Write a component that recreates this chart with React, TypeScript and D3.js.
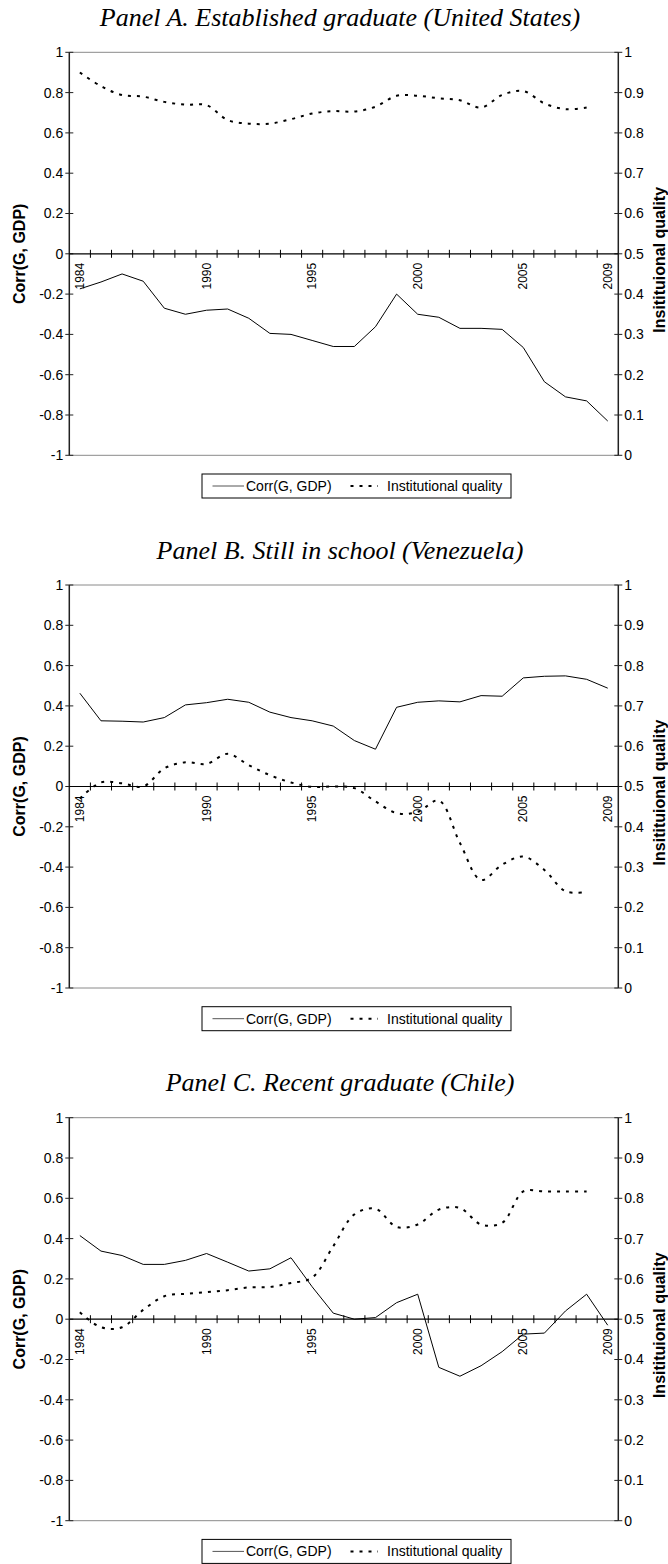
import React from 'react';
import * as d3 from 'd3';

const years = [1984, 1985, 1986, 1987, 1988, 1989, 1990, 1991, 1992, 1993, 1994, 1995, 1996, 1997, 1998, 1999, 2000, 2001, 2002, 2003, 2004, 2005, 2006, 2007, 2008, 2009];
const yearLabels = [1984, 1990, 1995, 2000, 2005, 2009];
const leftTicks = [1, 0.8, 0.6, 0.4, 0.2, 0, -0.2, -0.4, -0.6, -0.8, -1];
const rightTicks = [1, 0.9, 0.8, 0.7, 0.6, 0.5, 0.4, 0.3, 0.2, 0.1, 0];

const titles = [
  'Panel A. Established graduate (United States)',
  'Panel B. Still in school (Venezuela)',
  'Panel C. Recent graduate (Chile)',
];

// Corr(G, GDP) — left axis
const corrA = [-0.174, -0.14, -0.10, -0.136, -0.27, -0.30, -0.28, -0.274, -0.32, -0.395, -0.40, -0.43, -0.46, -0.46, -0.362, -0.20, -0.30, -0.315, -0.37, -0.37, -0.375, -0.465, -0.635, -0.71, -0.73, -0.83];
const corrB = [0.463, 0.326, 0.324, 0.32, 0.342, 0.405, 0.416, 0.433, 0.418, 0.369, 0.342, 0.326, 0.30, 0.228, 0.185, 0.393, 0.418, 0.425, 0.42, 0.451, 0.448, 0.539, 0.547, 0.549, 0.532, 0.488];
const corrC = [0.415, 0.338, 0.316, 0.272, 0.272, 0.292, 0.326, 0.283, 0.239, 0.25, 0.305, 0.161, 0.03, 0.0, 0.008, 0.082, 0.124, -0.239, -0.283, -0.231, -0.161, -0.074, -0.069, 0.041, 0.124, -0.03];

// Institutional quality — right axis
const instA = [0.95, 0.916, 0.894, 0.89, 0.877, 0.87, 0.869, 0.832, 0.823, 0.823, 0.834, 0.848, 0.854, 0.853, 0.865, 0.892, 0.892, 0.886, 0.881, 0.863, 0.894, 0.904, 0.873, 0.859, 0.863, null];
const instB = [0.47, 0.51, 0.508, 0.50, 0.545, 0.56, 0.556, 0.581, 0.553, 0.528, 0.51, 0.499, 0.50, 0.496, 0.463, 0.434, 0.437, 0.465, 0.36, 0.268, 0.306, 0.326, 0.293, 0.24, 0.238, null];
const instC = [0.517, 0.48, 0.48, 0.523, 0.557, 0.563, 0.567, 0.572, 0.579, 0.58, 0.59, 0.603, 0.681, 0.76, 0.774, 0.729, 0.735, 0.772, 0.776, 0.735, 0.739, 0.817, 0.817, 0.817, 0.817, null];

const legendLabels = ['Corr(G, GDP)', 'Institutional quality'];
const leftTitle = 'Corr(G, GDP)';
const rightTitle = 'Insitituional quality';

const W = 668;
const H = 1564;
const plotLeft = 69.3;
const plotRight = 618.3;
const plotH = 403;
const panelTops = [52.3, 585, 1117.7];
const SANS = '"Liberation Sans", Arial, Helvetica, sans-serif';
const SERIF = '"Liberation Serif", "Times New Roman", Times, serif';

type P = { top: number; title: string; corr: number[]; inst: (number | null)[] };

function Panel({ top, title, corr, inst }: P) {
  const x = d3.scaleBand<string>().domain(years.map(String)).range([plotLeft, plotRight]);
  const bw = x.bandwidth();
  const cx = (i: number) => (x(String(years[i])) as number) + bw / 2;
  const yL = d3.scaleLinear().domain([-1, 1]).range([top + plotH, top]);
  const yR = d3.scaleLinear().domain([0, 1]).range([top + plotH, top]);
  const zeroY = yL(0);
  const bottom = top + plotH;

  const corrLine = d3.line<number>().x((_, i) => cx(i)).y((d) => yL(d));
  const instLine = d3
    .line<number | null>()
    .defined((d) => d != null)
    .x((_, i) => cx(i))
    .y((d) => yR(d as number))
    .curve(d3.curveCatmullRom.alpha(0.5));

  const boundaries = years.slice(1).map((yr) => x(String(yr)) as number);

  const lgTop = bottom + 18.7;
  const lgMid = lgTop + 12;

  return (
    <g>
      <text x={340} y={top - 26.5} textAnchor="middle" fontFamily={SERIF} fontStyle="italic" fontSize={26} fill="#000">
        {title}
      </text>
      {/* top & bottom borders */}
      <line x1={plotLeft} x2={plotRight} y1={top} y2={top} stroke="#8a8a8a" strokeWidth={1} />
      <line x1={plotLeft} x2={plotRight} y1={bottom} y2={bottom} stroke="#8a8a8a" strokeWidth={1} />
      {/* left axis */}
      <line x1={plotLeft} x2={plotLeft} y1={top} y2={bottom} stroke="#222" strokeWidth={1.5} />
      {leftTicks.map((t) => (
        <g key={'l' + t}>
          <line x1={plotLeft - 4} x2={plotLeft + 4} y1={yL(t)} y2={yL(t)} stroke="#222" strokeWidth={1} />
          <text x={plotLeft - 6} y={yL(t)} dy="0.35em" textAnchor="end" fontFamily={SANS} fontSize={14} fill="#000">
            {String(t)}
          </text>
        </g>
      ))}
      {/* right axis */}
      <line x1={plotRight} x2={plotRight} y1={top} y2={bottom} stroke="#222" strokeWidth={1.5} />
      {rightTicks.map((t) => (
        <g key={'r' + t}>
          <line x1={plotRight - 4} x2={plotRight + 4} y1={yR(t)} y2={yR(t)} stroke="#222" strokeWidth={1} />
          <text x={plotRight + 6} y={yR(t)} dy="0.35em" textAnchor="start" fontFamily={SANS} fontSize={14} fill="#000">
            {String(t)}
          </text>
        </g>
      ))}
      {/* zero category axis */}
      <line x1={plotLeft} x2={plotRight} y1={zeroY} y2={zeroY} stroke="#000" strokeWidth={1.2} />
      {boundaries.map((bx, i) => (
        <line key={'b' + i} x1={bx} x2={bx} y1={zeroY - 4} y2={zeroY + 4} stroke="#000" strokeWidth={1} />
      ))}
      {yearLabels.map((yr) => {
        const px = (x(String(yr)) as number) + bw / 2;
        return (
          <text
            key={'y' + yr}
            transform={`translate(${px},${zeroY + 9}) rotate(-90)`}
            dy="0.35em"
            textAnchor="end"
            fontFamily={SANS}
            fontSize={12}
            fill="#000"
          >
            {String(yr)}
          </text>
        );
      })}
      {/* axis titles */}
      <text
        transform={`translate(19,${(top + bottom) / 2}) rotate(-90)`}
        dy="0.35em"
        textAnchor="middle"
        fontFamily={SANS}
        fontWeight="bold"
        fontSize={16}
        fill="#000"
      >
        {leftTitle}
      </text>
      <text
        transform={`translate(659,${(top + bottom) / 2 + 6}) rotate(-90)`}
        dy="0.35em"
        textAnchor="middle"
        fontFamily={SANS}
        fontWeight="bold"
        fontSize={16}
        fill="#000"
      >
        {rightTitle}
      </text>
      {/* series */}
      <path d={corrLine(corr) || ''} fill="none" stroke="#000" strokeWidth={1} />
      <path d={instLine(inst) || ''} fill="none" stroke="#000" strokeWidth={2} strokeDasharray="3 6" />
      {/* legend */}
      <rect x={202} y={lgTop} width={309} height={24} fill="#fff" stroke="#000" strokeWidth={1} />
      <line x1={212.5} x2={244} y1={lgMid} y2={lgMid} stroke="#555" strokeWidth={1} />
      <text x={246} y={lgMid} dy="0.35em" fontFamily={SANS} fontSize={14} fill="#000">
        {legendLabels[0]}
      </text>
      <line x1={350.5} x2={378} y1={lgMid} y2={lgMid} stroke="#000" strokeWidth={2} strokeDasharray="3 6" />
      <text x={387} y={lgMid} dy="0.35em" fontFamily={SANS} fontSize={14} fill="#000">
        {legendLabels[1]}
      </text>
    </g>
  );
}

export default function App() {
  const corrs = [corrA, corrB, corrC];
  const insts = [instA, instB, instC];
  return (
    <svg
      width={W}
      height={H}
      viewBox={`0 0 ${W} ${H}`}
      style={{ position: 'absolute', left: 0, top: 0, display: 'block', background: '#fff' }}
    >
      <rect x={0} y={0} width={W} height={H} fill="#fff" />
      {panelTops.map((t, i) => (
        <Panel key={i} top={t} title={titles[i]} corr={corrs[i]} inst={insts[i]} />
      ))}
    </svg>
  );
}
